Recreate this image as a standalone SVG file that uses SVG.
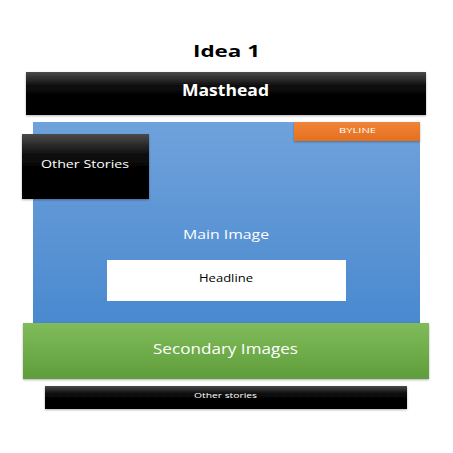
<svg xmlns="http://www.w3.org/2000/svg" width="453" height="453" viewBox="0 0 453 453">
<defs>
<linearGradient id="gBlack" x1="0" y1="0" x2="0" y2="1">
<stop offset="0" stop-color="#4a4a4a"/><stop offset="0.35" stop-color="#080808"/><stop offset="1" stop-color="#000"/>
</linearGradient>
<linearGradient id="gBlue" x1="0" y1="0" x2="0" y2="1">
<stop offset="0" stop-color="#6fa2db"/><stop offset="1" stop-color="#4a89cf"/>
</linearGradient>
<linearGradient id="gGreen" x1="0" y1="0" x2="0" y2="1">
<stop offset="0" stop-color="#80bc5a"/><stop offset="1" stop-color="#5f9d3b"/>
</linearGradient>
<linearGradient id="gOrange" x1="0" y1="0" x2="0" y2="1">
<stop offset="0" stop-color="#f08438"/><stop offset="1" stop-color="#e5701f"/>
</linearGradient>
<filter id="sh" x="-10%" y="-10%" width="120%" height="130%">
<feDropShadow dx="0" dy="1" stdDeviation="1" flood-color="#000" flood-opacity="0.3"/>
</filter>
</defs>
<style>
text{font-family:"Open Sans","DejaVu Sans",sans-serif;text-anchor:middle}
.w{fill:#fff}
</style>
<rect width="453" height="453" fill="#fff"/>
<text x="226.5" y="57.3" font-size="16" font-weight="bold" fill="#000" textLength="67" lengthAdjust="spacingAndGlyphs">Idea 1</text>
<g id="masthead">
<rect x="26" y="72" width="400" height="43" fill="url(#gBlack)" filter="url(#sh)"/>
<text class="w" x="225.5" y="96" font-size="15.5" font-weight="bold" textLength="87" lengthAdjust="spacingAndGlyphs">Masthead</text>
</g>
<g id="main-image">
<rect x="33" y="122" width="387" height="201" fill="url(#gBlue)"/>
<text class="w" x="226" y="239.3" font-size="13" textLength="86" lengthAdjust="spacingAndGlyphs">Main Image</text>
</g>
<g id="byline">
<rect x="294" y="122" width="126" height="19" fill="url(#gOrange)" filter="url(#sh)"/>
<text class="w" x="357.5" y="132.5" font-size="8" textLength="37" lengthAdjust="spacingAndGlyphs">BYLINE</text>
</g>
<g id="other-stories-side">
<rect x="22" y="134" width="127" height="65" fill="url(#gBlack)" filter="url(#sh)"/>
<text class="w" x="85" y="167.7" font-size="11.5" textLength="88" lengthAdjust="spacingAndGlyphs">Other Stories</text>
</g>
<g id="headline">
<rect x="107" y="260" width="239" height="41" fill="#fff"/>
<text x="226" y="281.7" font-size="11.5" fill="#000" textLength="54" lengthAdjust="spacingAndGlyphs">Headline</text>
</g>
<g id="secondary-images">
<rect x="23" y="323" width="406" height="56" fill="url(#gGreen)" filter="url(#sh)"/>
<text class="w" x="225.5" y="354" font-size="15" textLength="145" lengthAdjust="spacingAndGlyphs">Secondary Images</text>
</g>
<g id="other-stories-bottom">
<rect x="45" y="386" width="362" height="23" fill="url(#gBlack)" filter="url(#sh)"/>
<text class="w" x="225.5" y="397.5" font-size="7.5" textLength="63" lengthAdjust="spacingAndGlyphs">Other stories</text>
</g>
<g id="connectors"/>
</svg>
